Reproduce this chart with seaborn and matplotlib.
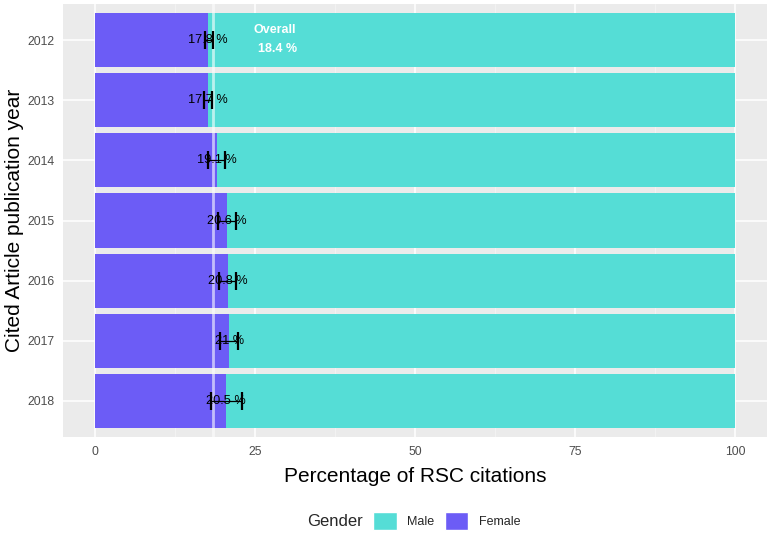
import numpy as np
import pandas as pd
import matplotlib
matplotlib.use('Agg')
import matplotlib.pyplot as plt
from matplotlib.patches import Patch
import seaborn as sns

# data
years = ['2012', '2013', '2014', '2015', '2016', '2017', '2018']
female_pct = [17.7, 17.7, 19.1, 20.6, 20.8, 21.0, 20.5]
female_labels = ['17.8 %', '17.7 %', '19.1 %', '20.6 %', '20.8 %', '21 %', '20.5 %']
ci_low = [17.2, 17.0, 17.7, 19.2, 19.4, 19.5, 18.2]
ci_high = [18.4, 18.3, 20.3, 22.0, 22.1, 22.3, 22.9]
male_total = [100] * len(years)
overall_pct = 18.4

male_col = '#55DDD6'
female_col = '#6C5CF6'

df = pd.DataFrame({'year': years, 'female': female_pct, 'total': male_total})

sns.set_theme(style='darkgrid', rc={'axes.facecolor': '#EBEBEB',
                                    'grid.color': 'white'})
plt.rcParams['font.family'] = ['Liberation Sans', 'DejaVu Sans']

fig = plt.figure(figsize=(7.7, 5.37), dpi=100)
# panel: x 63..767 px, y 4..437 px
ax = fig.add_axes([63 / 770, 1 - 437 / 537, 704 / 770, 433 / 537])

sns.barplot(data=df, x='total', y='year', order=years, color=male_col,
            width=0.9, saturation=1, linewidth=0, ax=ax, zorder=2)
sns.barplot(data=df, x='female', y='year', order=years, color=female_col,
            width=0.9, saturation=1, linewidth=0, ax=ax, zorder=3)

ypos = np.arange(len(years))
fp = np.array(female_pct)
xerr = np.vstack([fp - np.array(ci_low), np.array(ci_high) - fp])

# overall reference line
ax.axvline(overall_pct, color='white', alpha=0.6, lw=2, zorder=4)

ax.errorbar(fp, ypos, xerr=xerr, fmt='none', ecolor='black', elinewidth=0.9,
            capsize=6.5, capthick=1.6, zorder=5)
for y, x, lab in zip(ypos, fp, female_labels):
    ax.text(x, y, lab, ha='center', va='center', fontsize=9.2, color='black', zorder=6)

ax.text(28.1, -0.17, 'Overall', ha='center', va='center', color='white',
        fontsize=9, fontweight='bold', zorder=6)
ax.text(28.6, 0.15, f'{overall_pct} %', ha='center', va='center', color='white',
        fontsize=9, fontweight='bold', zorder=6)

ax.set_xlim(-5, 105)
ax.set_ylim(len(years) - 0.4, -0.6)
ax.set_xticks([0, 25, 50, 75, 100])
ax.set_xticks([12.5, 37.5, 62.5, 87.5], minor=True)
ax.grid(True, which='major', color='white', lw=1.1, zorder=0)
ax.grid(True, which='minor', axis='x', color='#F4F4F4', lw=0.6, zorder=0)
ax.set_axisbelow(True)
for s in ax.spines.values():
    s.set_visible(False)
ax.tick_params(axis='both', which='major', length=3.2, color='#333333', width=0.8,
               labelsize=8.8, labelcolor='#4D4D4D', pad=3)
ax.tick_params(axis='both', which='minor', length=0)
ax.set_xlabel('Percentage of RSC citations', fontsize=15, color='black', labelpad=7)
ax.set_ylabel('Cited Article publication year', fontsize=15, color='black', labelpad=2.5)

fig.text(363 / 770, 1 - 521 / 537, 'Gender', fontsize=12, ha='right', va='center')
handles = [Patch(facecolor=male_col, label='Male'),
           Patch(facecolor=female_col, label='Female')]
fig.legend(handles=handles, loc='center left', bbox_to_anchor=(373 / 770, 1 - 521 / 537),
           ncol=2, frameon=False, fontsize=9, handlelength=1.9, handleheight=1.9,
           handletextpad=0.85, columnspacing=0.8, borderpad=0, borderaxespad=0)

fig.savefig('out.png', dpi=100)
